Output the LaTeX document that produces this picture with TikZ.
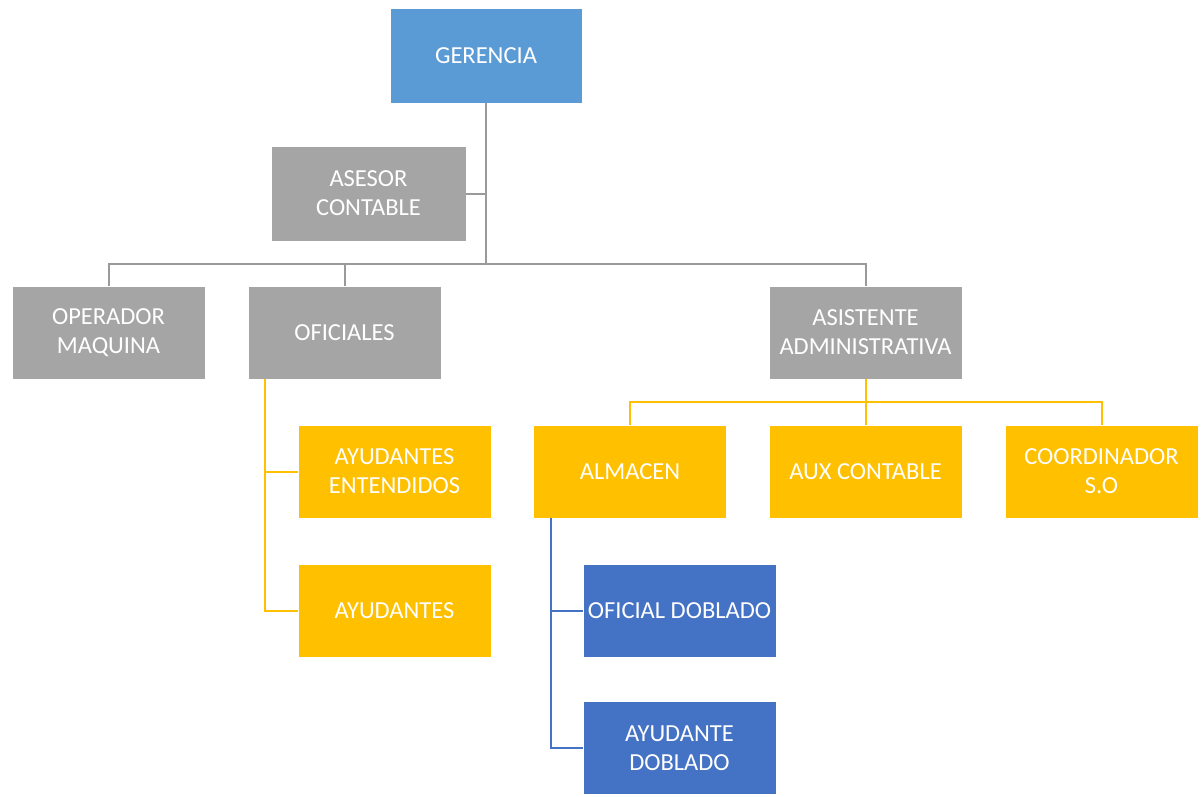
\documentclass[tikz,border=0pt]{standalone}
\usepackage{fontspec}
\setmainfont{Carlito}
\definecolor{cgray}{HTML}{A5A5A5}
\definecolor{cgold}{HTML}{FFC000}
\definecolor{clblue}{HTML}{5B9BD5}
\definecolor{cdblue}{HTML}{4472C4}
\definecolor{lgray}{HTML}{9A9A9A}
\tikzset{
  box/.style={rectangle, minimum width=193pt, minimum height=93pt, inner sep=1pt,
    align=center, text=white, draw=white, line width=0.8pt,
    font=\fontsize{24.5}{29}\selectfont},
  graybox/.style={box, fill=cgray},
  goldbox/.style={box, fill=cgold},
  topbox/.style={box, fill=clblue},
  bluebox/.style={box, fill=cdblue},
  gline/.style={draw=lgray, line width=2pt},
  yline/.style={draw=cgold, line width=2pt},
  bline/.style={draw=cdblue, line width=2pt}
}
\begin{document}
\begin{tikzpicture}[x=1pt,y=-1pt]
\useasboundingbox[fill=white] (0,0) rectangle (1201,796);
% nodes
\node[topbox, minimum width=192pt, minimum height=95pt] (ger) at (486,55.5) {GERENCIA};
\node[graybox, minimum width=195pt, minimum height=95pt] (ase) at (368.5,193.5) {ASESOR\\CONTABLE};
\node[graybox] (op) at (108.5,332.5) {OPERADOR\\MAQUINA};
\node[graybox] (ofi) at (344.5,332.5) {OFICIALES};
\node[graybox] (asi) at (865.5,332.5) {ASISTENTE\\ADMINISTRATIVA};
\node[goldbox] (alm) at (630,471.5) {ALMACEN};
\node[goldbox] (aux) at (865.5,471.5) {AUX CONTABLE};
\node[goldbox] (coo) at (1101.5,471.5) {COORDINADOR\\S.O};
\node[goldbox] (ae) at (394.5,471.5) {AYUDANTES\\ENTENDIDOS};
\node[goldbox] (ay) at (394.5,611) {AYUDANTES};
\node[bluebox] (od) at (679.5,611) {OFICIAL DOBLADO};
\node[bluebox] (ad) at (679.5,748) {AYUDANTE\\DOBLADO};
% coordinates
\coordinate (bus) at (486,264);
\coordinate (ybus) at (865.5,402);
\coordinate (ofiT) at ([xshift=17pt]ofi.south west);
\coordinate (almT) at ([xshift=18pt]alm.south west);
% gray connectors
\draw[gline] (ger.south) -- (bus);
\draw[gline] (ase.east) -- (ase.east -| bus);
\draw[gline] (op.north) |- (bus);
\draw[gline] (ofi.north) |- (bus);
\draw[gline] (asi.north) |- (bus);
% gold connectors
\draw[yline] (asi.south) -- (aux.north);
\draw[yline] (alm.north) |- (ybus);
\draw[yline] (coo.north) |- (ybus);
\draw[yline] (ofiT) |- (ae.west);
\draw[yline] (ofiT) |- (ay.west);
% blue connectors
\draw[bline] (almT) |- (od.west);
\draw[bline] (almT) |- (ad.west);
\end{tikzpicture}
\end{document}
